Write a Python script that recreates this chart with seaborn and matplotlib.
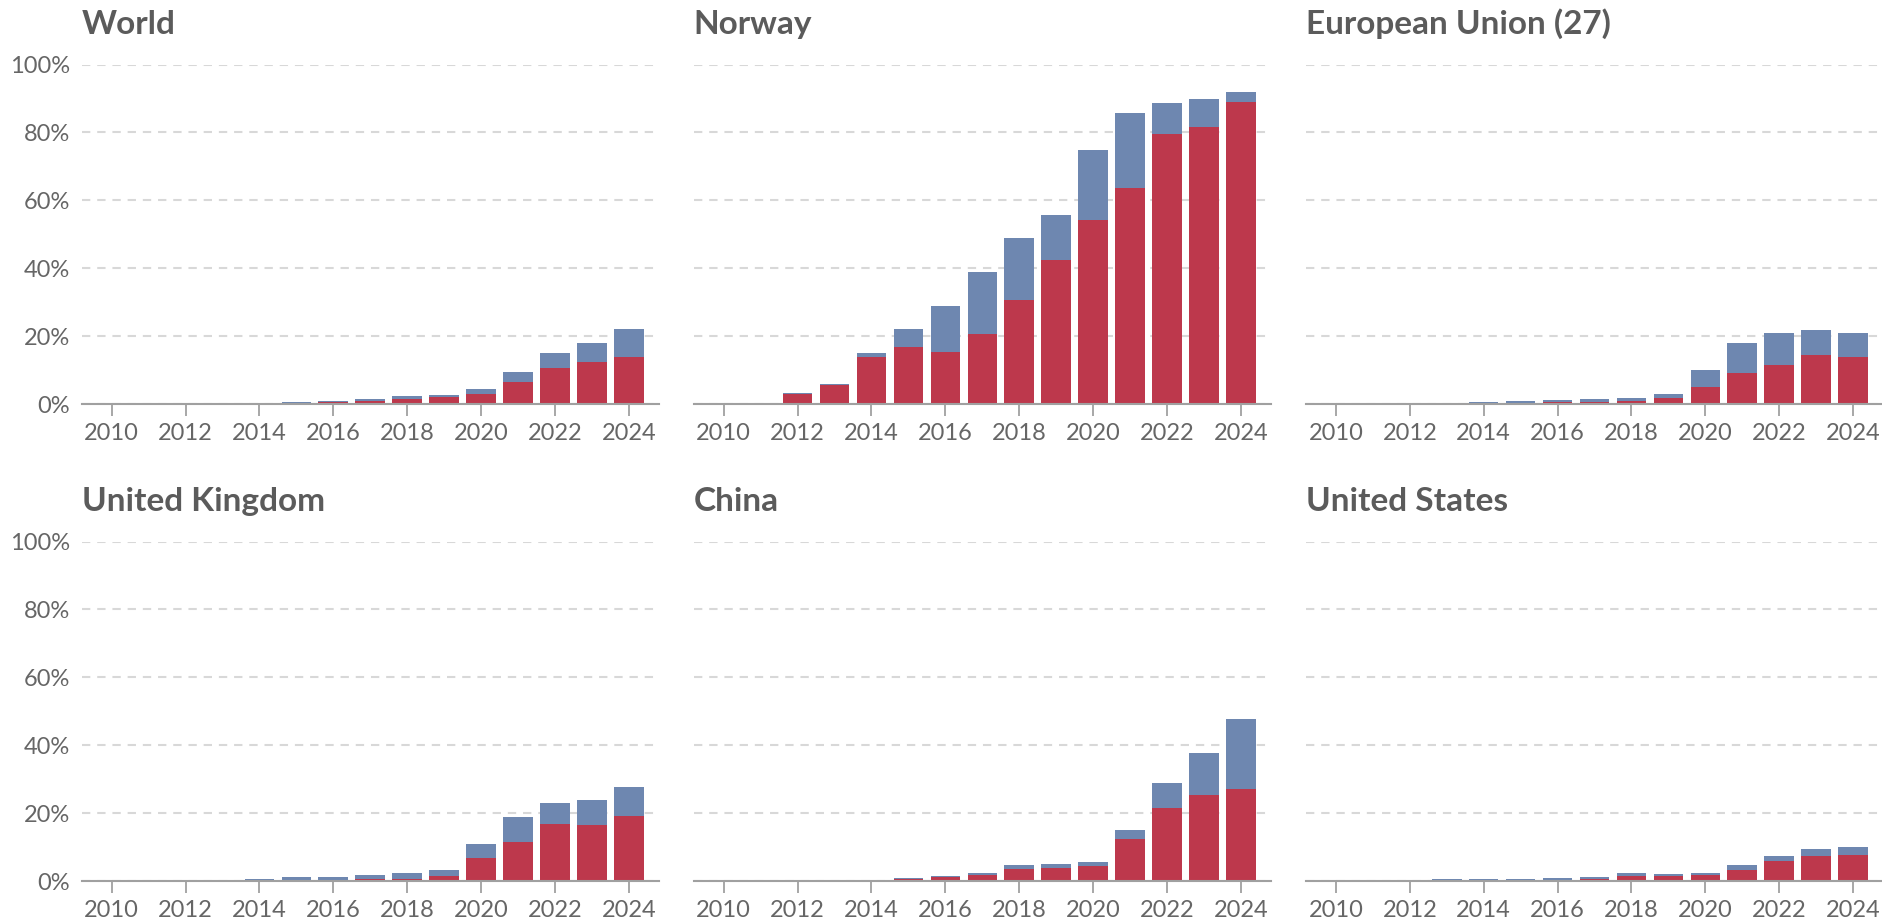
import matplotlib
matplotlib.use("Agg")
import matplotlib.pyplot as plt
import matplotlib.ticker as mticker
import pandas as pd
import seaborn as sns

# ---------------------------------------------------------------------------
# Data: share of new cars sold that are electric (%)
# bev = battery-electric only, total = battery-electric + plug-in hybrid
# ---------------------------------------------------------------------------
years = list(range(2010, 2025))
regions = ["World", "Norway", "European Union (27)",
           "United Kingdom", "China", "United States"]

bev_world   = [0.0, 0.03, 0.07, 0.1, 0.25, 0.4, 0.5, 0.9, 1.6, 2.0, 3.0, 6.6, 10.6, 12.4, 13.7]
total_world = [0.0, 0.05, 0.12, 0.2, 0.4, 0.6, 0.9, 1.4, 2.4, 2.6, 4.3, 9.3, 15.0, 18.0, 22.0]

bev_norway   = [0.0, 0.0, 2.8, 5.6, 13.7, 16.8, 15.4, 20.7, 30.7, 42.4, 54.3, 63.7, 79.6, 81.6, 88.9]
total_norway = [0.0, 0.0, 3.1, 5.9, 15.0, 22.0, 28.9, 38.8, 48.8, 55.8, 74.7, 85.7, 88.7, 89.7, 91.8]

bev_eu   = [0.0, 0.05, 0.1, 0.15, 0.2, 0.4, 0.5, 0.7, 0.9, 1.8, 5.1, 9.0, 11.6, 14.4, 13.7]
total_eu = [0.0, 0.05, 0.15, 0.35, 0.5, 0.9, 1.1, 1.5, 1.9, 2.8, 10.0, 17.9, 20.9, 21.9, 20.9]

bev_uk   = [0.0, 0.05, 0.05, 0.1, 0.2, 0.4, 0.4, 0.6, 0.7, 1.5, 6.7, 11.5, 16.7, 16.4, 19.2]
total_uk = [0.0, 0.05, 0.1, 0.15, 0.5, 1.1, 1.3, 1.9, 2.5, 3.2, 10.9, 18.9, 22.9, 23.8, 27.8]

bev_china   = [0.0, 0.0, 0.05, 0.05, 0.2, 0.6, 1.2, 1.8, 3.4, 3.8, 4.5, 12.3, 21.5, 25.2, 27.0]
total_china = [0.0, 0.02, 0.05, 0.1, 0.3, 1.0, 1.5, 2.4, 4.6, 4.9, 5.6, 14.9, 28.8, 37.7, 47.7]

bev_us   = [0.0, 0.05, 0.1, 0.3, 0.3, 0.3, 0.4, 0.6, 1.4, 1.5, 1.7, 3.3, 5.9, 7.4, 7.8]
total_us = [0.0, 0.1, 0.35, 0.6, 0.7, 0.6, 1.0, 1.3, 2.3, 2.1, 2.3, 4.6, 7.3, 9.4, 10.0]

bev_series = [bev_world, bev_norway, bev_eu, bev_uk, bev_china, bev_us]
total_series = [total_world, total_norway, total_eu, total_uk, total_china, total_us]

# ---------------------------------------------------------------------------
# Style
# ---------------------------------------------------------------------------
RED = "#BD384C"
BLUE = "#6E87B0"
TEXT = "#666666"
TITLE = "#5b5b5b"

sns.set_theme(style="white")
plt.rcParams["font.family"] = ["Lato", "DejaVu Sans"]

frames = []
for region, bev, total in zip(regions, bev_series, total_series):
    frames.append(pd.DataFrame({"region": region, "year": years,
                                "bev": bev, "total": total}))
df = pd.concat(frames, ignore_index=True)

W, H = 1882, 919
fig = plt.figure(figsize=(W / 100, H / 100), dpi=100)

col_left = [81.7, 693.8, 1306.0]
ax_w = 577.0
row_bottom = [404.0, 881.0]   # pixel y of the 0% line
ax_h = 339.5
title_base = [34.0, 510.5]

for i, region in enumerate(regions):
    r, c = divmod(i, 3)
    ax = fig.add_axes([col_left[c] / W, 1 - row_bottom[r] / H, ax_w / W, ax_h / H])
    d = df[df["region"] == region]

    # total (BEV + PHEV) behind, BEV in front
    sns.barplot(data=d, x="year", y="total", order=years, color=BLUE,
                saturation=1, width=0.8, errorbar=None, ax=ax, zorder=2,
                linewidth=0, edgecolor="none")
    sns.barplot(data=d, x="year", y="bev", order=years, color=RED,
                saturation=1, width=0.8, errorbar=None, ax=ax, zorder=2,
                linewidth=0, edgecolor="none")

    ax.set_xlim(-0.81, len(years) - 1 + 0.81)
    ax.set_ylim(0, 100)
    ax.set_yticks([0, 20, 40, 60, 80, 100])
    ax.yaxis.set_major_formatter(mticker.FuncFormatter(lambda v, p: f"{v:.0f}%"))
    ax.set_xticks(range(0, len(years), 2))
    ax.set_xticklabels([str(y) for y in years[::2]])
    ax.set_xlabel("")
    ax.set_ylabel("")

    ax.grid(axis="y", color="#d8d8d8", linewidth=1.5, linestyle=(0, (4, 3.3)), zorder=0)
    ax.set_axisbelow(True)
    for s in ["top", "right", "left"]:
        ax.spines[s].set_visible(False)
    ax.spines["bottom"].set_color("#a0a0a0")
    ax.spines["bottom"].set_linewidth(1.5)
    ax.spines["bottom"].set_zorder(3)

    ax.tick_params(axis="x", length=8.5, width=1.3, color="#a0a0a0",
                   labelsize=17, labelcolor=TEXT, pad=5, direction="out", bottom=True)
    ax.tick_params(axis="y", length=0, labelsize=17, labelcolor=TEXT, pad=8.5,
                   labelleft=(c == 0))

    fig.text(col_left[c] / W, 1 - title_base[r] / H, region, ha="left",
             va="baseline", fontsize=24, fontweight="bold", color=TITLE)

fig.savefig("out.png", dpi=100)
